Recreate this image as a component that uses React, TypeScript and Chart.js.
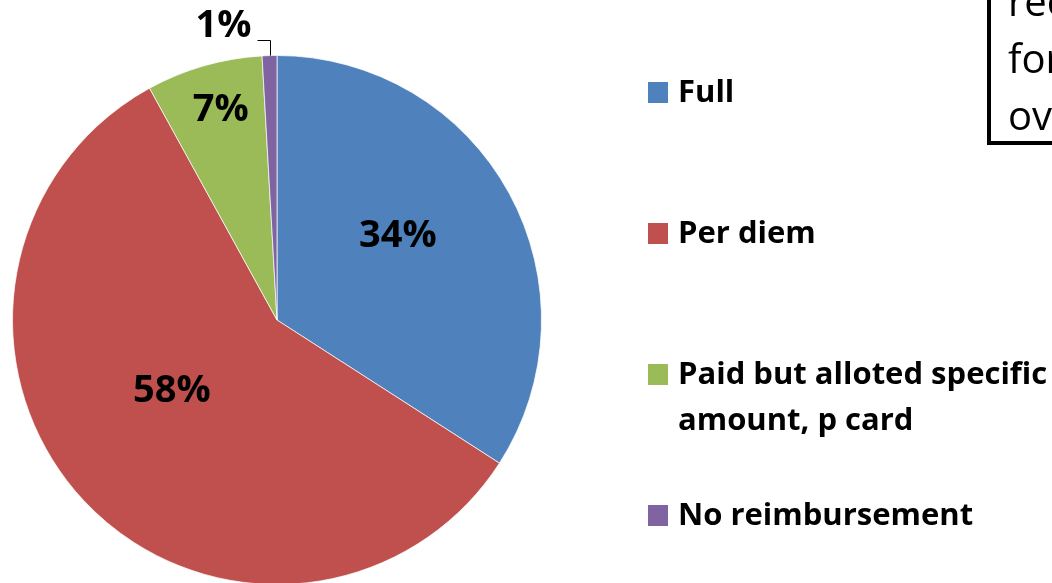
import React, { useEffect, useRef } from "react";
import { Chart, registerables } from "chart.js";

Chart.register(...registerables);

const categories = ["Full", "Per diem", "Paid but alloted specific amount, p card", "No reimbursement"];
const shares = [34.1, 57.9, 7.1, 0.9];
const shareLabels = ["34%", "58%", "7%", "1%"];
const sliceColors = ["#4F81BD", "#C0504D", "#9BBB59", "#8064A2"];
const noteLines = ["rec", "for", "ov"];

// label placement style (radius fraction, angular nudge in degrees)
const labelStyle = [
  { r: 0.555, da: -6, outside: false },
  { r: 0.48, da: 9, outside: false },
  { r: 0.82, da: 1, outside: false },
  { r: 1, da: 0, outside: true },
];

const W = 1052;
const H = 600;

const decorPlugin = {
  id: "decor",
  beforeDraw(chart: any) {
    const ctx = chart.ctx;
    ctx.save();
    ctx.fillStyle = "#ffffff";
    ctx.fillRect(0, 0, chart.width, chart.height);
    ctx.restore();
  },
  afterDatasetsDraw(chart: any) {
    const ctx = chart.ctx as CanvasRenderingContext2D;
    const meta = chart.getDatasetMeta(0);
    ctx.save();
    // slice labels
    meta.data.forEach((arc: any, i: number) => {
      const p = arc.getProps(["x", "y", "startAngle", "endAngle", "outerRadius"], true);
      const st = labelStyle[i];
      const mid = (p.startAngle + p.endAngle) / 2 + (st.da * Math.PI) / 180;
      ctx.fillStyle = "#000000";
      ctx.font = "bold 38px 'Open Sans'";
      ctx.textBaseline = "middle";
      if (!st.outside) {
        ctx.textAlign = "center";
        const lx = p.x + Math.cos(mid) * p.outerRadius * st.r;
        const ly = p.y + Math.sin(mid) * p.outerRadius * st.r;
        ctx.fillText(shareLabels[i], lx, ly);
      } else {
        const ex = p.x + Math.cos(mid) * p.outerRadius;
        const ey = p.y + Math.sin(mid) * p.outerRadius;
        const topY = ey - 16;
        const leftX = ex - 12;
        ctx.strokeStyle = "#000000";
        ctx.lineWidth = 1;
        ctx.beginPath();
        ctx.moveTo(Math.round(ex) + 0.5, ey);
        ctx.lineTo(Math.round(ex) + 0.5, Math.round(topY) + 0.5);
        ctx.lineTo(leftX, Math.round(topY) + 0.5);
        ctx.stroke();
        ctx.textAlign = "right";
        ctx.fillText(shareLabels[i], leftX - 6, topY - 13);
      }
    });

    // legend
    const legendX = 648;
    const textX = 678;
    const firstBase = 102;
    const step = 141;
    const lineH = 46;
    const maxW = 374;
    ctx.font = "bold 31px 'Open Sans'";
    ctx.textAlign = "left";
    ctx.textBaseline = "alphabetic";
    categories.forEach((label, i) => {
      const base = firstBase + step * i;
      ctx.fillStyle = sliceColors[i];
      ctx.fillRect(legendX, base - 20, 20, 21);
      ctx.fillStyle = "#000000";
      const words = label.split(" ");
      const lines: string[] = [];
      let cur = "";
      words.forEach((w) => {
        const test = cur ? cur + " " + w : w;
        if (ctx.measureText(test).width > maxW && cur) {
          lines.push(cur);
          cur = w;
        } else {
          cur = test;
        }
      });
      if (cur) lines.push(cur);
      lines.forEach((ln, k) => ctx.fillText(ln, textX, base + k * lineH));
    });

    // partially visible note box
    ctx.strokeStyle = "#000000";
    ctx.lineWidth = 4;
    ctx.strokeRect(989, -20, 120, 163);
    ctx.fillStyle = "#000000";
    ctx.font = "40px 'Open Sans'";
    noteLines.forEach((t, i) => ctx.fillText(t, 1008, 16 + i * 57));
    ctx.restore();
  },
};

export default function App() {
  const ref = useRef<HTMLCanvasElement | null>(null);
  useEffect(() => {
    if (!ref.current) return;
    const chart = new Chart(ref.current, {
      type: "pie",
      data: {
        labels: categories,
        datasets: [
          {
            data: shares,
            backgroundColor: sliceColors,
            borderColor: "rgba(255,255,255,0.7)",
            borderWidth: 1,
          },
        ],
      },
      options: {
        responsive: false,
        animation: false,
        devicePixelRatio: 1,
        layout: { padding: { top: 55, left: 12, bottom: 15, right: 510 } },
        plugins: {
          legend: { display: false },
          tooltip: { enabled: false },
        },
      },
      plugins: [decorPlugin],
    });
    return () => chart.destroy();
  }, []);
  return (
    <div
      style={{
        position: "fixed",
        left: 0,
        top: 0,
        width: W,
        height: 583,
        overflow: "hidden",
        background: "#ffffff",
      }}
    >
      <canvas ref={ref} width={W} height={H} style={{ display: "block" }} />
    </div>
  );
}
